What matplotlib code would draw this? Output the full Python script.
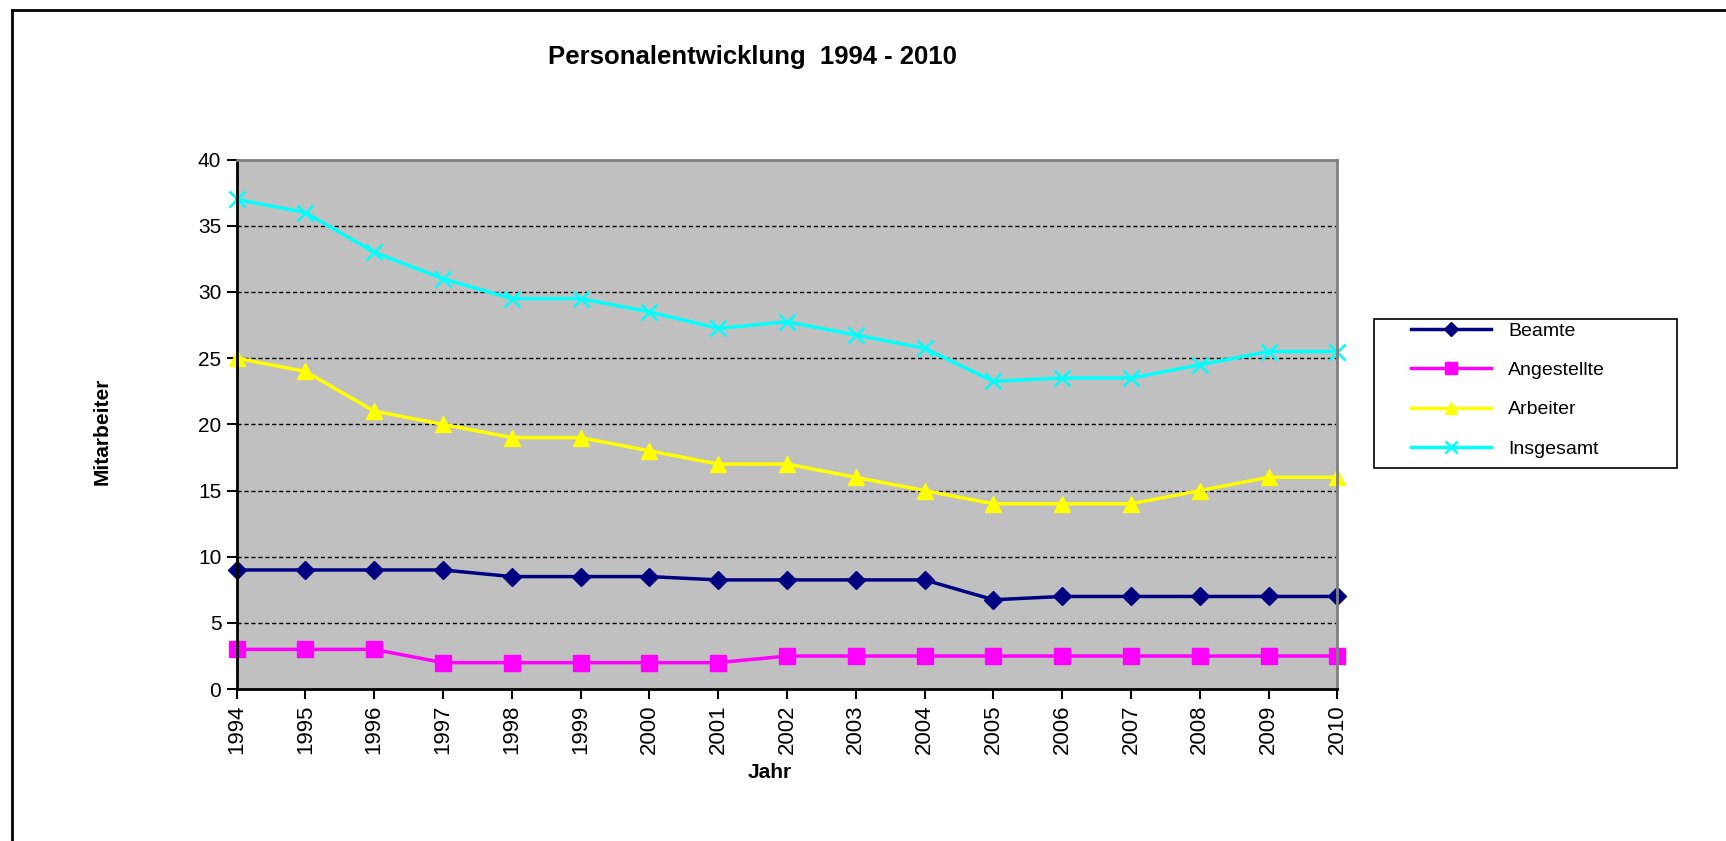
import matplotlib
matplotlib.use("Agg")
import matplotlib.pyplot as plt
from matplotlib.lines import Line2D
from matplotlib.patches import Rectangle

plt.rcParams['font.family'] = ['Liberation Sans', 'DejaVu Sans']

# Daten
jahre = [1994, 1995, 1996, 1997, 1998, 1999, 2000, 2001, 2002, 2003, 2004, 2005, 2006, 2007, 2008, 2009, 2010]
beamte = [9, 9, 9, 9, 8.5, 8.5, 8.5, 8.25, 8.25, 8.25, 8.25, 6.75, 7, 7, 7, 7, 7]
angestellte = [3, 3, 3, 2, 2, 2, 2, 2, 2.5, 2.5, 2.5, 2.5, 2.5, 2.5, 2.5, 2.5, 2.5]
arbeiter = [25, 24, 21, 20, 19, 19, 18, 17, 17, 16, 15, 14, 14, 14, 15, 16, 16]
insgesamt = [37, 36, 33, 31, 29.5, 29.5, 28.5, 27.25, 27.75, 26.75, 25.75, 23.25, 23.5, 23.5, 24.5, 25.5, 25.5]

W, H = 1726, 841
fig = plt.figure(figsize=(W / 100, H / 100), dpi=100)
ax = fig.add_axes([0.1371, 0.1806, 0.6378, 0.6296])
ax.set_facecolor('#C0C0C0')

x = list(range(len(jahre)))
l1, = ax.plot(x, beamte, color='#000080', marker='D', markersize=9, lw=2.5, label='Beamte')
l2, = ax.plot(x, angestellte, color='#FF00FF', marker='s', markersize=11, lw=2.5, label='Angestellte')
l3, = ax.plot(x, arbeiter, color='#FFFF00', marker='^', markersize=12, lw=2.5, label='Arbeiter')
l4, = ax.plot(x, insgesamt, color='#00FFFF', marker='x', markersize=12, mew=1.8, lw=2.5, label='Insgesamt')
serien = [l1, l2, l3, l4]
for l in serien:
    l.set_clip_on(False)

ax.set_xlim(0, len(jahre) - 1)
ax.set_ylim(0, 40)
ax.set_yticks(range(0, 41, 5))
for y in range(5, 40, 5):
    ax.axhline(y, color='black', lw=1, ls=(0, (3, 2)), zorder=0.5)

ax.set_xticks(x)
ax.set_xticklabels([str(j) for j in jahre], rotation=90, fontsize=16)
ax.tick_params(axis='y', labelsize=15, length=7, width=1.5, direction='out', pad=4)
ax.tick_params(axis='x', length=7, width=1.5, direction='out', pad=4)

ax.spines['left'].set_linewidth(2)
ax.spines['bottom'].set_linewidth(2)
for s in ['top', 'right']:
    ax.spines[s].set_color('#808080')
    ax.spines[s].set_linewidth(2)

fig.text(752 / W, 1 - 57 / H, 'Personalentwicklung  1994 - 2010', ha='center', va='center',
         fontsize=18.5, fontweight='bold')
fig.text(102 / W, 1 - 431 / H, 'Mitarbeiter', ha='center', va='center', rotation=90,
         fontsize=15, fontweight='bold')
fig.text(770 / W, 1 - 773 / H, 'Jahr', ha='center', va='center', fontsize=15, fontweight='bold')

# Legende: Rahmen separat, Einträge ohne Rahmen
fig.add_artist(Rectangle((1374 / W, 1 - 468 / H), 303 / W, 149 / H, transform=fig.transFigure,
                         facecolor='white', edgecolor='black', lw=1.2, zorder=2))
leg = fig.legend(handles=serien, loc='upper left', bbox_to_anchor=(1411 / W, 1 - 322 / H),
                 frameon=False, fontsize=14, handlelength=4.1, markerscale=0.75,
                 labelspacing=1.12, borderpad=0, handletextpad=0.9, borderaxespad=0)
leg.set_zorder(3)

# Rahmen um das Diagramm
fig.add_artist(Line2D([12 / W, 1], [1 - 10 / H, 1 - 10 / H], color='black', lw=2,
                      transform=fig.transFigure))
fig.add_artist(Line2D([12 / W, 12 / W], [0, 1 - 10 / H], color='black', lw=2,
                      transform=fig.transFigure))

fig.savefig('out.png', dpi=100)
